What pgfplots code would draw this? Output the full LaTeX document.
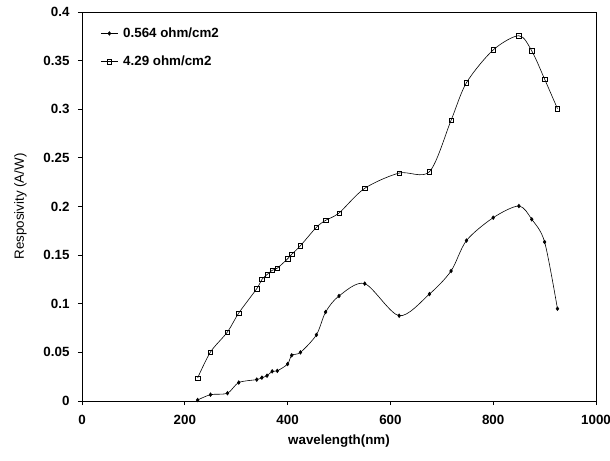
\documentclass[border=0pt]{standalone}
\usepackage{pgfplots}
\pgfplotsset{compat=1.18}
\usepackage{fontspec}
\setmainfont{Liberation Sans}
\pgfplotstableread{
wl s1 s2
225 0.001 0.0237
250 0.0065 0.0504
283 0.008 0.071
305 0.019 0.0905
340 0.022 0.1155
350 0.024 0.125
360 0.026 0.130
370 0.0305 0.1344
380 0.031 0.1366
400 0.038 0.1462
408 0.047 0.1508
425 0.050 0.1597
456 0.068 0.1786
474 0.0915 0.1858
500 0.108 0.1933
550 0.1207 0.2187
617 0.0877 0.2344
676 0.110 0.2358
718 0.1337 0.2886
748 0.165 0.3273
800 0.1885 0.361
850 0.2005 0.3756
875 0.1868 0.360
900 0.1635 0.331
925 0.0949 0.3006
}\datatable
\begin{document}
\begin{tikzpicture}
\begin{axis}[
  scale only axis,
  width=514bp, height=389bp,
  xmin=0, xmax=1000, ymin=0, ymax=0.4,
  xtick={0,200,...,1000},
  ytick={0,0.05,...,0.4},
  xtick pos=bottom, ytick pos=left,
  tick align=outside,
  major tick length=4bp,
  axis line style={black, line width=0.8pt},
  tick style={black, line width=0.8pt},
  /pgf/number format/assume math mode=true,
  /pgf/number format/fixed,
  /pgf/number format/precision=2,
  /pgf/number format/1000 sep={},
  ticklabel style={font=\fontsize{13.4}{15}\selectfont\bfseries},
  yticklabel style={xshift=-5bp},
  xticklabel style={yshift=-7bp},
  xlabel={\bfseries wavelength(nm)},
  ylabel={Resposivity (A/W)},
  label style={font=\fontsize{13.4}{15}\selectfont},
  xlabel style={yshift=-3bp},
  ylabel style={yshift=10bp},
  legend cell align=left,
  legend style={draw=none, fill=none, at={(0.03,0.97)}, anchor=north west,
    font=\fontsize{13.4}{15}\selectfont\bfseries, row sep=13bp,
    nodes={inner xsep=5bp}},
  legend image code/.code={
    \draw[#1, mark repeat=2, mark phase=2] plot coordinates {(0bp,0bp) (8.5bp,0bp) (17bp,0bp)};
  },
]
\addplot[black, line width=0.6pt, smooth, tension=0.5, mark=diamond*, mark size=1.8bp, mark options={solid, fill=black}] table[x=wl, y=s1] {\datatable};
\addlegendentry{0.564 ohm/cm2}
\addplot[black, line width=0.6pt, smooth, tension=0.5, mark=square, mark size=2.2bp, mark options={solid, fill=white, line width=0.5pt}] table[x=wl, y=s2] {\datatable};
\addlegendentry{4.29 ohm/cm2}
\end{axis}
\pgfresetboundingbox
\path (current axis.south west) ++(-82bp,-60bp) coordinate (bbsw);
\path (current axis.north east) ++(14bp,12bp) coordinate (bbne);
\path[use as bounding box] (bbsw) rectangle (bbne);
\end{tikzpicture}
\end{document}
